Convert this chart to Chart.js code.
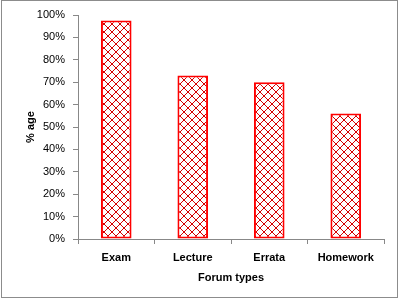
<!DOCTYPE html>
<html>
<head>
<meta charset="utf-8">
<script src="https://cdn.jsdelivr.net/npm/chart.js@4"></script>
<style>
html,body{margin:0;padding:0;background:#fff;}
#wrap{position:absolute;left:0;top:0;width:402px;height:301px;}
#frame{position:absolute;left:1px;top:0px;width:395px;height:296px;border:1px solid #8c8c8c;pointer-events:none;}
</style>
</head>
<body>
<div id="wrap"><canvas id="c" width="402" height="301"></canvas><div id="frame"></div></div>
<script>
const categories = ["Exam", "Lecture", "Errata", "Homework"];
const values = [97.5, 73, 70, 56];
const yTicks = [0, 10, 20, 30, 40, 50, 60, 70, 80, 90, 100];

function makePattern() {
  const n = 8;
  const p = document.createElement('canvas');
  p.width = n; p.height = n;
  const g = p.getContext('2d');
  g.fillStyle = '#ffffff';
  g.fillRect(0, 0, n, n);
  g.fillStyle = '#d40000';
  for (let i = 0; i < n; i++) {
    g.fillRect(i, i, 1, 1);
    g.fillRect(n - 1 - i, i, 1, 1);
  }
  return document.getElementById('c').getContext('2d').createPattern(p, 'repeat');
}

const FONT = "'Liberation Sans', Arial, sans-serif";

new Chart(document.getElementById('c'), {
  type: 'bar',
  data: {
    labels: categories,
    datasets: [{
      data: values,
      backgroundColor: makePattern(),
      borderColor: '#ff0000',
      borderWidth: 2,
      borderSkipped: false,
      barPercentage: 0.4,
      categoryPercentage: 1.0
    }]
  },
  options: {
    responsive: false,
    animation: false,
    layout: { padding: { left: 24, right: 18, top: 15, bottom: 16 } },
    plugins: { legend: { display: false }, tooltip: { enabled: false } },
    scales: {
      x: {
        grid: { display: true, drawOnChartArea: false, offset: true, tickLength: 5, color: '#888888' },
        border: { color: '#888888', width: 1 },
        ticks: { color: '#000', font: { family: FONT, size: 11, weight: 'bold' }, padding: 7, maxRotation: 0 },
        title: { display: true, text: 'Forum types', color: '#000', font: { family: FONT, size: 11, weight: 'bold' }, padding: { top: 6, bottom: 0 } },
        afterFit: s => { s.height = 46; }
      },
      y: {
        min: 0, max: 100,
        afterBuildTicks: s => { s.ticks = yTicks.map(v => ({ value: v })); },
        grid: { display: true, drawOnChartArea: false, tickLength: 5, color: '#888888' },
        border: { color: '#888888', width: 1 },
        ticks: { color: '#000', font: { family: FONT, size: 11 }, padding: 8, callback: v => v + '%' },
        title: { display: true, text: '% age', color: '#000', font: { family: FONT, size: 11, weight: 'bold' }, padding: { top: 0, bottom: 0 } },
        afterFit: s => { s.width = 54; }
      }
    }
  }
});
</script>
</body>
</html>
